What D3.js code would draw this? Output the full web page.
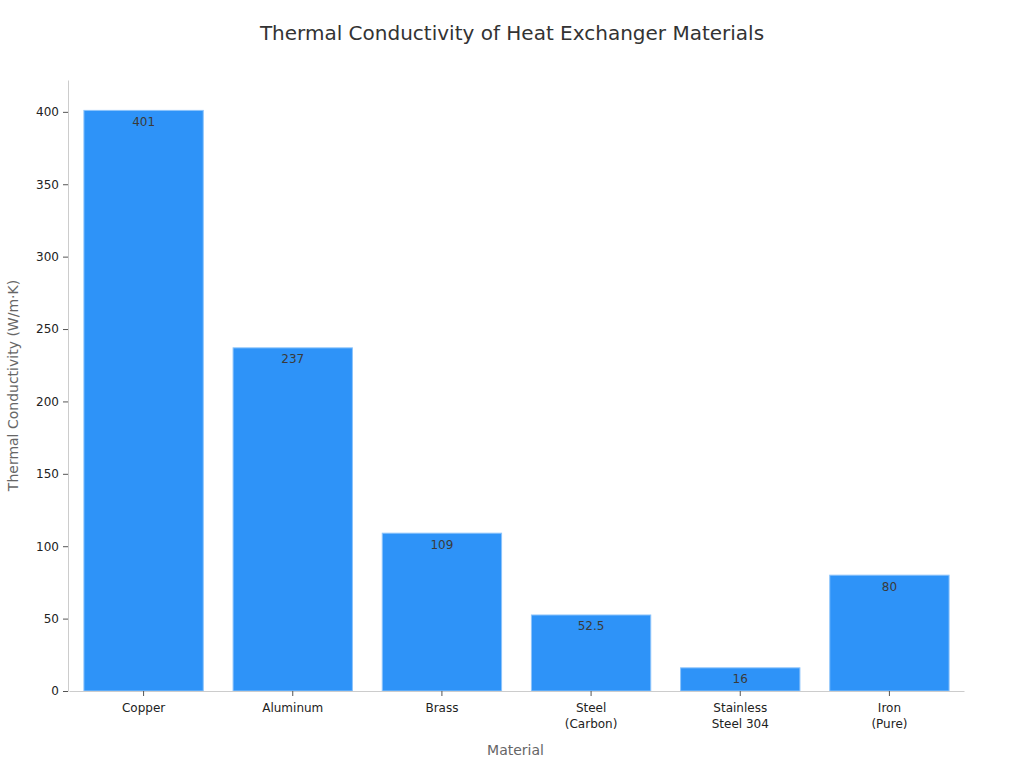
<!DOCTYPE html>
<html>
<head>
<meta charset="utf-8">
<script src="https://cdn.jsdelivr.net/npm/d3@7"></script>
<style>
  body { margin: 0; background: #fff; }
  text { font-family: "DejaVu Sans", sans-serif; }
</style>
</head>
<body>
<div id="chart"></div>
<script>
// DATA
const materials = ["Copper", "Aluminum", "Brass", "Steel\n(Carbon)", "Stainless\nSteel 304", "Iron\n(Pure)"];
const conductivity = [401, 237, 109, 52.5, 16, 80];
const valueLabels = ["401", "237", "109", "52.5", "16", "80"];
const yTicks = [0, 50, 100, 150, 200, 250, 300, 350, 400];

const margin = { top: 80, right: 61, bottom: 77, left: 68 };
const width = 1024 - margin.left - margin.right;
const height = 768 - margin.top - margin.bottom;

const svg = d3.select("#chart")
    .append("svg")
    .attr("width", 1024)
    .attr("height", 768);

const g = svg.append("g")
    .attr("transform", `translate(${margin.left},${margin.top})`);

const data = materials.map((m, i) => ({ name: m, value: conductivity[i], label: valueLabels[i] }));

const xScale = d3.scaleBand()
    .domain(materials)
    .range([1, width + 1])
    .paddingInner(0.2)
    .paddingOuter(0.1);

const yScale = d3.scaleLinear()
    .domain([0, 422])
    .range([height, 0]);

// TITLE
svg.append("text")
    .attr("x", 512)
    .attr("y", 40)
    .attr("text-anchor", "middle")
    .attr("font-size", "20px")
    .attr("fill", "#333")
    .text("Thermal Conductivity of Heat Exchanger Materials");

// BARS
g.selectAll(".bar")
    .data(data)
    .enter()
    .append("rect")
    .attr("class", "bar")
    .attr("x", d => xScale(d.name))
    .attr("y", d => yScale(d.value))
    .attr("width", xScale.bandwidth())
    .attr("height", d => height - yScale(d.value))
    .attr("fill", "#2e93f8")
    .attr("stroke", "#8cc4fb")
    .attr("stroke-width", 1);

// VALUE LABELS
g.selectAll(".val")
    .data(data)
    .enter()
    .append("text")
    .attr("class", "val")
    .attr("x", d => xScale(d.name) + xScale.bandwidth() / 2)
    .attr("y", d => yScale(d.value) + 15.5)
    .attr("text-anchor", "middle")
    .attr("font-size", "12px")
    .attr("fill", "#3a3a3a")
    .text(d => d.label);

// Y AXIS
const yAxis = g.append("g")
    .call(d3.axisLeft(yScale).tickValues(yTicks).tickSize(5).tickPadding(4).tickSizeOuter(0));
yAxis.select(".domain").attr("stroke", "#ccc");
yAxis.selectAll(".tick line").attr("stroke", "#555");
yAxis.selectAll(".tick text").attr("font-size", "12px").attr("fill", "#222")
    .attr("font-family", "DejaVu Sans, sans-serif");

// X AXIS
const xAxis = g.append("g")
    .attr("transform", `translate(0,${height})`)
    .call(d3.axisBottom(xScale).tickSize(5).tickSizeOuter(0).tickFormat(""));
xAxis.select(".domain").attr("stroke", "#ccc");
xAxis.selectAll(".tick line").attr("stroke", "#555");
xAxis.selectAll(".tick").each(function (d) {
    const lines = d.split("\n");
    const t = d3.select(this).append("text")
        .attr("fill", "#222")
        .attr("font-size", "12px")
        .attr("font-family", "DejaVu Sans, sans-serif")
        .attr("text-anchor", "middle");
    lines.forEach((ln, i) => {
        t.append("tspan").attr("x", 0).attr("y", 21 + i * 16).text(ln);
    });
});

// AXIS TITLES
svg.append("text")
    .attr("x", margin.left + width / 2)
    .attr("y", 755)
    .attr("text-anchor", "middle")
    .attr("font-size", "14px")
    .attr("fill", "#666")
    .text("Material");

svg.append("text")
    .attr("transform", "rotate(-90)")
    .attr("x", -(margin.top + height / 2) - 0)
    .attr("y", 18)
    .attr("text-anchor", "middle")
    .attr("font-size", "14px")
    .attr("fill", "#666")
    .text("Thermal Conductivity (W/m·K)");
</script>
</body>
</html>
